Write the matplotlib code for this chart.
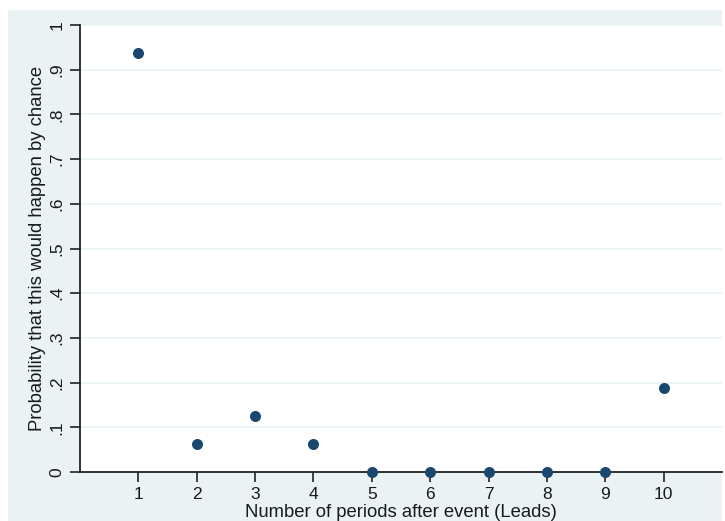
import matplotlib
matplotlib.use("Agg")
import matplotlib.pyplot as plt
from matplotlib.patches import Rectangle

leads = [1, 2, 3, 4, 5, 6, 7, 8, 9, 10]
prob = [0.9375, 0.0625, 0.125, 0.0625, 0.0, 0.0, 0.0, 0.0, 0.0, 0.1875]
yticks = [0, 0.1, 0.2, 0.3, 0.4, 0.5, 0.6, 0.7, 0.8, 0.9, 1.0]
ytick_labels = ["0", ".1", ".2", ".3", ".4", ".5", ".6", ".7", ".8", ".9", "1"]

plt.rcParams['font.family'] = ['Liberation Sans', 'DejaVu Sans']

W, H = 725, 521
fig = plt.figure(figsize=(W/100, H/100), dpi=100, facecolor='white')
bg = '#EAF2F3'
bgax = fig.add_axes([0, 0, 1, 1], zorder=-10)
bgax.set_axis_off()
bgax.add_patch(Rectangle((8/W, 0), (722-8)/W, (H-10)/H, transform=bgax.transAxes,
                         facecolor=bg, edgecolor='none'))

ax = fig.add_axes([80/W, (H-472)/H, (722-80)/W, (472-25)/H], zorder=1)
ax.set_facecolor('white')
ax.scatter(leads, prob, s=48, color='#1A476F', zorder=3, clip_on=False)

ax.set_xlim(0, 11)
ax.set_ylim(0, 1)
ax.set_xticks(leads)
ax.set_xticklabels([str(v) for v in leads], fontsize=12.5)
ax.set_yticks(yticks)
ax.set_yticklabels(ytick_labels, fontsize=12.5, rotation=90, va='center')
ax.yaxis.grid(True, color='#EAF2F3', linewidth=1.2)
ax.set_axisbelow(True)

for s in ['top', 'right']:
    ax.spines[s].set_visible(False)
for s in ['left', 'bottom']:
    ax.spines[s].set_color('#222222')
    ax.spines[s].set_linewidth(1.3)
ax.tick_params(axis='both', length=7, width=1.2, color='#222222', labelcolor='#1a1a1a', pad=4)

ax.set_xlabel("Number of periods after event (Leads)", fontsize=13.3, labelpad=1, color='#1a1a1a')
ax.set_ylabel("Probability that this would happen by chance", fontsize=13.3, labelpad=3, color='#1a1a1a')

fig.savefig("out.png", dpi=100, facecolor=fig.get_facecolor())
